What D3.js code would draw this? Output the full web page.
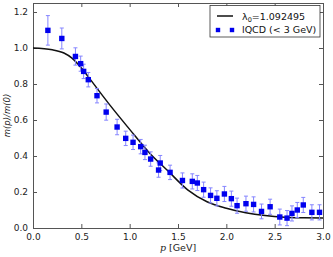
<html>
<head>
<script src="https://d3js.org/d3.v7.min.js"></script>
<style>
  body { margin: 0; background: #fff; }
  text { font-family: "DejaVu Sans", sans-serif; }
</style>
</head>
<body>
<script>
// lattice points: momentum, ratio, error
const pVals = [0.154, 0.298, 0.439, 0.493, 0.524, 0.572, 0.662, 0.757, 0.870, 0.959, 1.035, 1.114, 1.158, 1.217, 1.299, 1.316, 1.418,
               1.546, 1.648, 1.700, 1.765, 1.837, 1.902, 1.980, 2.052, 2.111, 2.203, 2.282, 2.364, 2.453, 2.553, 2.628, 2.679, 2.734, 2.796, 2.885, 2.964];
const mVals = [1.098, 1.053, 0.953, 0.913, 0.870, 0.824, 0.735, 0.644, 0.561, 0.498, 0.476, 0.452, 0.420, 0.383, 0.322, 0.361, 0.309,
               0.264, 0.259, 0.250, 0.213, 0.181, 0.165, 0.189, 0.163, 0.124, 0.135, 0.131, 0.092, 0.118, 0.061, 0.055, 0.081, 0.100, 0.128, 0.087, 0.087];
const errVals = [0.082, 0.058, 0.048, 0.042, 0.040, 0.040, 0.040, 0.045, 0.043, 0.040, 0.040, 0.040, 0.040, 0.040, 0.040, 0.042, 0.040,
                 0.042, 0.042, 0.042, 0.042, 0.042, 0.042, 0.042, 0.042, 0.042, 0.042, 0.042, 0.041, 0.042, 0.044, 0.042, 0.042, 0.042, 0.042, 0.042, 0.042];

// fitted curve
const curveP = [0, 0.2, 0.32, 0.4, 0.52, 0.6, 0.8, 1.0, 1.2, 1.4, 1.6, 1.8, 2.0, 2.2, 2.4, 2.6, 2.8, 3.0];
const curveM = [1.0, 0.99, 0.972, 0.945, 0.876, 0.82, 0.68, 0.548, 0.42, 0.315, 0.212, 0.146, 0.11, 0.085, 0.069, 0.06, 0.057, 0.056];

const xTicks = [0, 0.5, 1.0, 1.5, 2.0, 2.5, 3.0];
const yTicks = [0, 0.2, 0.4, 0.6, 0.8, 1.0, 1.2];

const width = 333, height = 257;
const margin = {left: 33, right: 10, top: 3, bottom: 29};

const svg = d3.select("body").append("svg")
  .attr("width", width)
  .attr("height", height);

const x = d3.scaleLinear().domain([0, 3]).range([margin.left, width - margin.right]);
const y = d3.scaleLinear().domain([0, 1.25]).range([height - margin.bottom, margin.top]);

// axes, ticks pointing inward
const tickLen = 4;
svg.append("g")
  .attr("transform", `translate(0,${y(0)})`)
  .call(d3.axisBottom(x).tickValues(xTicks).tickSize(-tickLen).tickPadding(6).tickFormat(d3.format(".1f")));
svg.append("g")
  .attr("transform", `translate(0,${y(1.25)})`)
  .call(d3.axisTop(x).tickValues(xTicks).tickSize(-tickLen).tickFormat(""));
svg.append("g")
  .attr("transform", `translate(${x(0)},0)`)
  .call(d3.axisLeft(y).tickValues(yTicks).tickSize(-tickLen).tickPadding(5).tickFormat(d3.format(".1f")));
svg.append("g")
  .attr("transform", `translate(${x(3)},0)`)
  .call(d3.axisRight(y).tickValues(yTicks).tickSize(-tickLen).tickFormat(""));

svg.selectAll(".domain").attr("stroke", "#555");
svg.selectAll(".tick line").attr("stroke", "#555");
svg.selectAll(".tick text").attr("font-size", 9).attr("fill", "#222").attr("font-family", "DejaVu Sans");

// curve
const line = d3.line().x((d, i) => x(curveP[i])).y(d => y(d)).curve(d3.curveMonotoneX);
svg.append("path")
  .attr("d", line(curveM))
  .attr("fill", "none")
  .attr("stroke", "#111")
  .attr("stroke-width", 1.5);

// error bars
const pts = pVals.map((p, i) => ({p: p, m: mVals[i], e: errVals[i]}));
const eb = svg.append("g").attr("stroke", "#8585ff").attr("stroke-width", 1);
eb.selectAll(".v").data(pts).enter().append("line")
  .attr("x1", d => x(d.p)).attr("x2", d => x(d.p))
  .attr("y1", d => y(d.m - d.e)).attr("y2", d => y(d.m + d.e));
eb.selectAll(".t").data(pts).enter().append("line")
  .attr("x1", d => x(d.p) - 2).attr("x2", d => x(d.p) + 2)
  .attr("y1", d => y(d.m + d.e)).attr("y2", d => y(d.m + d.e));
eb.selectAll(".b").data(pts).enter().append("line")
  .attr("x1", d => x(d.p) - 2).attr("x2", d => x(d.p) + 2)
  .attr("y1", d => y(d.m - d.e)).attr("y2", d => y(d.m - d.e));

// markers
svg.append("g").selectAll("rect").data(pts).enter().append("rect")
  .attr("x", d => x(d.p) - 2.7).attr("y", d => y(d.m) - 2.7)
  .attr("width", 5.4).attr("height", 5.4)
  .attr("fill", "#0000ee");

// legend
const lg = svg.append("g");
lg.append("rect").attr("x", 210).attr("y", 5.5).attr("width", 110).attr("height", 31.5)
  .attr("fill", "#fff").attr("stroke", "#333").attr("stroke-width", 0.8);
lg.append("line").attr("x1", 217).attr("x2", 233).attr("y1", 16).attr("y2", 16)
  .attr("stroke", "#111").attr("stroke-width", 1.5);
lg.append("text").attr("x", 242).attr("y", 19.5).attr("font-size", 9.5).attr("fill", "#111")
  .html('λ<tspan font-size="6.5" dy="2">0</tspan><tspan dy="-2">=1.092495</tspan>');
[218, 232].forEach(cx => {
  lg.append("rect").attr("x", cx - 2.2).attr("y", 30 - 2.2).attr("width", 4.4).attr("height", 4.4).attr("fill", "#0000ee");
});
lg.append("text").attr("x", 242).attr("y", 33).attr("font-size", 9.5).attr("fill", "#111")
  .text("lQCD (< 3 GeV)");

// axis labels
svg.append("text")
  .attr("x", (x(0) + x(3)) / 2).attr("y", 251)
  .attr("text-anchor", "middle").attr("font-size", 9.5).attr("fill", "#222")
  .html('<tspan font-style="italic" font-family="DejaVu Serif">p</tspan> [GeV]');
svg.append("text")
  .attr("transform", `translate(10,${y(0.625)}) rotate(-90)`)
  .attr("text-anchor", "middle").attr("font-size", 8.5).attr("fill", "#222")
  .attr("font-family", "DejaVu Serif").attr("font-style", "italic")
  .text("m(p)/m(0)");
</script>
</body>
</html>
